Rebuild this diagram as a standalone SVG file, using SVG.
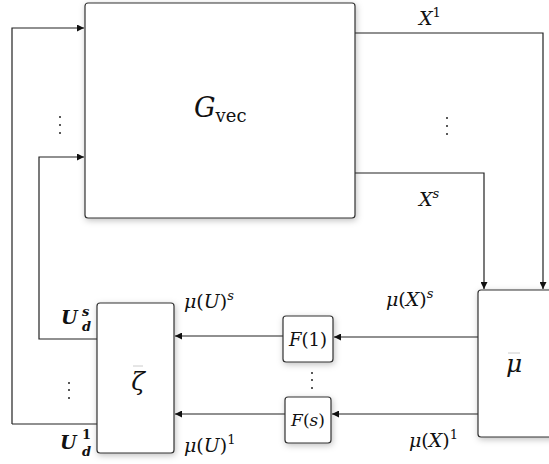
<svg xmlns="http://www.w3.org/2000/svg" width="549" height="464" viewBox="0 0 549 464">
<style>
.box{fill:#fff;stroke:#333;stroke-width:1.2}
.ln{fill:none;stroke:#222;stroke-width:1.2}
text{font-family:"DejaVu Serif","Liberation Serif","Times New Roman",serif;fill:#111}
.m{font-size:19px}
.i{font-style:italic}
.sup{font-size:13px}
.dot{fill:#222}
</style>
<defs>
<filter id="sh" x="-20%" y="-20%" width="140%" height="140%">
<feDropShadow dx="1" dy="2" stdDeviation="3" flood-color="#000" flood-opacity="0.25"/>
</filter>
<marker id="ar" viewBox="0 0 10 10" refX="10" refY="5" markerWidth="9" markerHeight="7" markerUnits="userSpaceOnUse" orient="auto">
<path d="M0,0 L10,5 L0,10 z" fill="#111"/>
</marker>
</defs>
<g id="connectors">
<path class="ln" d="M12,424 L12,28 L84,28" marker-end="url(#ar)"/>
<path class="ln" d="M97,339 L39,339 L39,157 L84,157" marker-end="url(#ar)"/>
<path class="ln" d="M355,33 L543,33 L543,289" marker-end="url(#ar)"/>
<path class="ln" d="M355,173 L484,173 L484,289" marker-end="url(#ar)"/>
<path class="ln" d="M478,337 L334,337" marker-end="url(#ar)"/>
<path class="ln" d="M478,414 L332,414" marker-end="url(#ar)"/>
<path class="ln" d="M283,336 L175,336" marker-end="url(#ar)"/>
<path class="ln" d="M285,414 L175,414" marker-end="url(#ar)"/>
<path class="ln" d="M97,424 L12,424"/>
</g>
<g id="G">
<rect class="box" x="85" y="3" width="270" height="215" rx="3" filter="url(#sh)"/>
<text x="194" y="117"><tspan class="i" font-size="27">G</tspan><tspan font-size="18" dy="5">vec</tspan></text>
</g>
<g id="mu">
<rect class="box" x="478" y="290" width="80" height="147" rx="3" filter="url(#sh)"/>
<line x1="508" y1="353" x2="520" y2="353" stroke="#ccc" stroke-width="1"/>
<text class="i" x="514" y="372" text-anchor="middle" font-size="25">μ</text>
</g>
<g id="F1">
<rect class="box" x="283" y="316" width="50" height="46" rx="3" filter="url(#sh)"/>
<text x="308" y="346" text-anchor="middle" font-size="18"><tspan class="i">F</tspan>(1)</text>
</g>
<g id="Fs">
<rect class="box" x="285" y="397" width="46" height="46" rx="3" filter="url(#sh)"/>
<text x="308" y="426" text-anchor="middle" font-size="17"><tspan class="i">F</tspan>(<tspan class="i">s</tspan>)</text>
</g>
<g id="zeta">
<rect class="box" x="97" y="303" width="77" height="150" rx="3" filter="url(#sh)"/>
<line x1="133" y1="366" x2="143" y2="366" stroke="#ccc" stroke-width="1"/>
<text class="i" x="138" y="390" text-anchor="middle" font-size="25">ζ</text>
</g>
<g id="labels">
<text class="m" x="419" y="25"><tspan class="i">X</tspan><tspan class="sup" dy="-8">1</tspan></text>
<text class="m" x="419" y="206"><tspan class="i">X</tspan><tspan class="sup i" dy="-8">s</tspan></text>
<text class="m" x="386" y="306"><tspan class="i">μ</tspan>(<tspan class="i">X</tspan>)<tspan class="sup i" dy="-8">s</tspan></text>
<text class="m" x="409" y="447"><tspan class="i">μ</tspan>(<tspan class="i">X</tspan>)<tspan class="sup" dy="-8">1</tspan></text>
<text class="m" x="184" y="308"><tspan class="i">μ</tspan>(<tspan class="i">U</tspan>)<tspan class="sup i" dy="-8">s</tspan></text>
<text class="m" x="184" y="452"><tspan class="i">μ</tspan>(<tspan class="i">U</tspan>)<tspan class="sup" dy="-8">1</tspan></text>
<text class="m i" x="61" y="324" font-weight="bold">U</text>
<text class="i sup" x="82" y="316" font-weight="bold">s</text>
<text class="i sup" x="82" y="331" font-weight="bold">d</text>
<text class="m i" x="60" y="449" font-weight="bold">U</text>
<text class="sup" x="82" y="439" font-weight="bold">1</text>
<text class="i sup" x="82" y="456" font-weight="bold">d</text>
</g>
<g id="dots">
<circle class="dot" cx="60" cy="117" r="1"/><circle class="dot" cx="60" cy="125" r="1"/><circle class="dot" cx="60" cy="133" r="1"/>
<circle class="dot" cx="447" cy="118" r="1"/><circle class="dot" cx="447" cy="126" r="1"/><circle class="dot" cx="447" cy="134" r="1"/>
<circle class="dot" cx="69" cy="383" r="1"/><circle class="dot" cx="69" cy="390" r="1"/><circle class="dot" cx="69" cy="398" r="1"/>
<circle class="dot" cx="312" cy="373" r="1"/><circle class="dot" cx="312" cy="380" r="1"/><circle class="dot" cx="312" cy="388" r="1"/>
</g>
</svg>
